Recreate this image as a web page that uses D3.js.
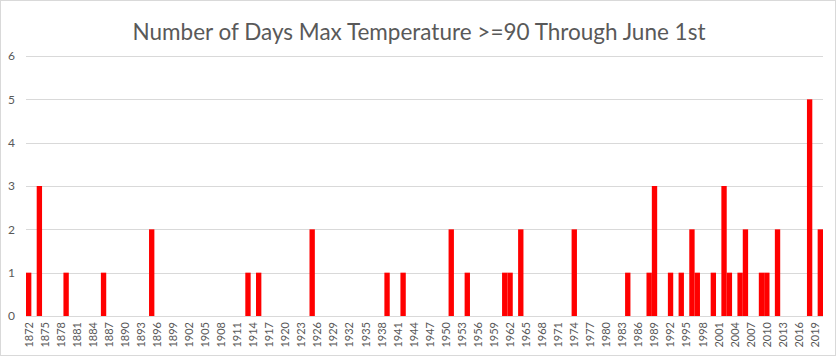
<!DOCTYPE html>
<html>
<head>
<meta charset="utf-8">
<script src="https://cdn.jsdelivr.net/npm/d3@7"></script>
<style>
  body { margin: 0; background: #fff; }
  svg { display: block; }
</style>
</head>
<body>
<svg id="chart" width="837" height="357"></svg>
<script>
// ---- data ----
const firstYear = 1872;
const lastYear = 2020;
const barYears  = [1872, 1874, 1879, 1886, 1895, 1913, 1915, 1925, 1939, 1942, 1951, 1954, 1961, 1962, 1964, 1974, 1984, 1988, 1989, 1992, 1994, 1996, 1997, 2000, 2002, 2003, 2005, 2006, 2009, 2010, 2012, 2018, 2020];
const barValues = [1,    3,    1,    1,    2,    1,    1,    2,    1,    1,    2,    1,    1,    1,    2,    2,    1,    1,    3,    1,    1,    2,    1,    1,    3,    1,    1,    2,    1,    1,    2,    5,    2];
const yTicks = [0, 1, 2, 3, 4, 5, 6];
const title = "Number of Days Max Temperature >=90 Through June 1st";

// ---- build ----
const years = d3.range(firstYear, lastYear + 1);
const valueByYear = new Map(barYears.map((y, i) => [y, barValues[i]]));
const data = years.map(y => ({ year: y, value: valueByYear.get(y) || 0 }));
const tickYears = years.filter((y, i) => i % 3 === 0);

const svg = d3.select("#chart");
const W = 837, H = 357;
const plot = { left: 26, right: 823, top: 56, bottom: 316 };

// outer border
svg.append("rect")
  .attr("x", 0.5).attr("y", 0.5)
  .attr("width", W - 2).attr("height", H - 2)
  .attr("fill", "#fff").attr("stroke", "#d9d9d9");

const x = d3.scaleBand().domain(years).range([plot.left, plot.right]).padding(0);
const y = d3.scaleLinear().domain([0, 6]).range([plot.bottom, plot.top]);

// gridlines
svg.append("g").selectAll("line").data(yTicks).join("line")
  .attr("x1", plot.left).attr("x2", plot.right)
  .attr("y1", d => Math.round(y(d)) + 0.5).attr("y2", d => Math.round(y(d)) + 0.5)
  .attr("stroke", "#d9d9d9").attr("stroke-width", 1);

// y axis labels
const yAxis = d3.axisLeft(y).tickValues(yTicks).tickFormat(d3.format("d")).tickSize(0).tickPadding(0);
const gy = svg.append("g").attr("transform", `translate(15,0)`).call(yAxis);
gy.select(".domain").remove();
gy.selectAll("text")
  .attr("font-family", "Lato, 'Open Sans', sans-serif")
  .attr("font-size", 12)
  .attr("fill", "#595959");

// bars
svg.append("g").selectAll("rect").data(data.filter(d => d.value > 0)).join("rect")
  .attr("x", d => x(d.year))
  .attr("width", x.bandwidth())
  .attr("y", d => y(d.value))
  .attr("height", d => y(0) - y(d.value))
  .attr("fill", "#ff0000");

// x axis labels
const xAxis = d3.axisBottom(x).tickValues(tickYears).tickSize(0).tickPadding(0);
const gx = svg.append("g").attr("transform", `translate(0,${plot.bottom})`).call(xAxis);
gx.select(".domain").remove();
gx.selectAll("text")
  .attr("font-family", "Lato, 'Open Sans', sans-serif")
  .attr("font-size", 11)
  .attr("fill", "#595959")
  .attr("text-anchor", "end")
  .attr("transform", "translate(0,6) rotate(-90)")
  .attr("x", 0).attr("y", 0).attr("dy", "0.35em");

// title
svg.append("text")
  .attr("x", 419).attr("y", 40)
  .attr("text-anchor", "middle")
  .attr("font-family", "Lato, 'Open Sans', sans-serif")
  .attr("font-size", 22.5)
  .attr("fill", "#595959")
  .text(title);
</script>
</body>
</html>
